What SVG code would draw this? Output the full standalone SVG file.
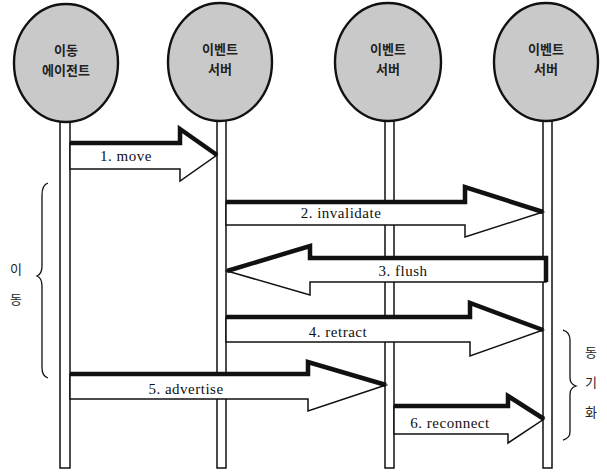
<svg xmlns="http://www.w3.org/2000/svg" width="607" height="472" viewBox="0 0 607 472">
<style>
.life{fill:#fff;stroke:#111;stroke-width:1.5}
.node{fill:#c9c9c9;stroke:#111;stroke-width:2.4}
.nlab{font-family:"Noto Sans CJK KR","Noto Sans",sans-serif;font-size:13px;font-weight:bold;fill:#222;text-anchor:middle}
.out{fill:#fff;stroke:#111;stroke-width:1.5;stroke-linejoin:miter}
.thick{fill:none;stroke:#111;stroke-width:4.5;stroke-linejoin:miter}
.lab{font-family:"Liberation Serif",serif;font-size:15px;letter-spacing:0.5px;fill:#111;text-anchor:middle}
.brace{fill:none;stroke:#111;stroke-width:1.3}
.side{font-family:"Noto Sans CJK KR",sans-serif;font-size:13px;fill:#222;text-anchor:middle}
</style>
<g id="lifelines">
<rect class="life" x="60" y="110" width="10" height="358"/>
<rect class="life" x="217" y="110" width="9" height="358"/>
<rect class="life" x="385" y="110" width="9" height="358"/>
<rect class="life" x="543" y="110" width="9" height="358"/>
</g>
<g id="node1"><ellipse class="node" cx="66" cy="63" rx="52" ry="59"/><text class="nlab" x="66" y="55">이동</text><text class="nlab" x="66" y="75">에이전트</text></g>
<g id="node2"><ellipse class="node" cx="220" cy="62" rx="52" ry="59"/><text class="nlab" x="220" y="54">이벤트</text><text class="nlab" x="220" y="74">서버</text></g>
<g id="node3"><ellipse class="node" cx="388" cy="62" rx="53" ry="59"/><text class="nlab" x="388" y="54">이벤트</text><text class="nlab" x="388" y="74">서버</text></g>
<g id="node4"><ellipse class="node" cx="546" cy="62" rx="52" ry="59"/><text class="nlab" x="546" y="54">이벤트</text><text class="nlab" x="546" y="74">서버</text></g>
<g id="connectors">
<g id="a1"><polygon class="out" points="70,143 180,143 180,129 217,155 180,181 180,169 70,169"/><polyline class="thick" points="70,143 180,143 180,129 217,155"/><text class="lab" x="126" y="161">1. move</text></g>
<g id="a2"><polygon class="out" points="226,202 465,202 465,187 543,212 465,237 465,225 226,225"/><polyline class="thick" points="226,202 465,202 465,187 543,212"/><text class="lab" x="341" y="218">2. invalidate</text></g>
<g id="a3"><polygon class="out" points="227,271 310,246 310,258 546,258 546,282 310,282 310,295"/><polyline class="thick" points="227,271 310,246 310,258 546,258 546,282"/><text class="lab" x="403" y="276">3. flush</text></g>
<g id="a4"><polygon class="out" points="226,317 470,317 470,303 543,330 470,356 470,342 226,342"/><polyline class="thick" points="226,317 470,317 470,303 543,330"/><text class="lab" x="338" y="337">4. retract</text></g>
<g id="a5"><polygon class="out" points="70,374 308,374 308,362 386,385 308,411 308,399 70,399"/><polyline class="thick" points="70,374 308,374 308,362 386,385"/><text class="lab" x="186" y="394">5. advertise</text></g>
<g id="a6"><polygon class="out" points="394,406 508,406 508,396 544,419 508,443 508,434 394,434"/><polyline class="thick" points="394,406 508,406 508,396 544,419"/><text class="lab" x="450" y="428">6. reconnect</text></g>
</g>
<g id="braces">
<path class="brace" d="M48,183 Q42,185 42,195 L42,266 Q42,274 37,276 Q42,278 42,286 L42,368 Q42,376 48,378"/>
<path class="brace" d="M563,330 Q570,332 570,340 L570,378 Q570,384 576,386 Q570,388 570,394 L570,432 Q570,438 563,440"/>
<text class="side" x="16" y="274">이</text>
<text class="side" x="16" y="304">동</text>
<text class="side" x="591" y="357">동</text>
<text class="side" x="591" y="387">기</text>
<text class="side" x="591" y="417">화</text>
</g>
</svg>
